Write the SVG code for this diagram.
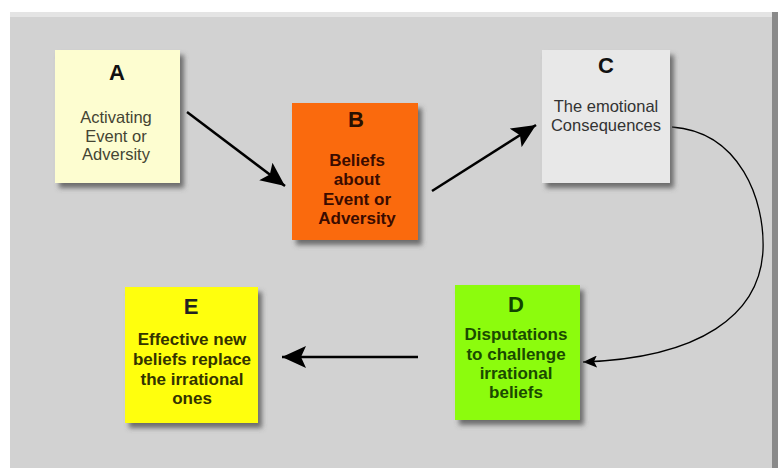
<svg xmlns="http://www.w3.org/2000/svg" width="781" height="469" viewBox="0 0 781 469">
<defs>
<filter id="sh" x="-20%" y="-20%" width="140%" height="140%">
<feDropShadow dx="4" dy="5" stdDeviation="2.5" flood-color="#555" flood-opacity="0.8"/>
</filter>
<marker id="big" markerUnits="userSpaceOnUse" markerWidth="26" markerHeight="22" refX="24" refY="11" orient="auto">
<path d="M0,0 L24,11 L0,22 L5,11 Z" fill="#000"/>
</marker>
<marker id="small" markerUnits="userSpaceOnUse" markerWidth="16" markerHeight="12" refX="14" refY="6" orient="auto">
<path d="M0,0 L14,6 L0,12 L3,6 Z" fill="#000"/>
</marker>
<style>
.t{font-family:"Liberation Sans",Arial,sans-serif;text-anchor:middle}
.h{font-size:22px;font-weight:bold}
.n{font-size:16.5px}
.b{font-size:17px;font-weight:bold}
.ln{stroke:#000;fill:none}
</style>
</defs>
<rect x="0" y="0" width="781" height="469" fill="#ffffff"/>
<rect x="10" y="12" width="768" height="456" fill="#d2d2d2"/>
<rect x="10" y="12" width="768" height="5" fill="#e4e4e4"/>
<rect x="772" y="12" width="6" height="456" fill="#8a8a8a"/>

<g id="connectors">
<line class="ln" x1="187" y1="112" x2="285" y2="186" stroke-width="2.5" marker-end="url(#big)"/>
<line class="ln" x1="432" y1="191" x2="536" y2="125" stroke-width="2.5" marker-end="url(#big)"/>
<path class="ln" d="M672,127 C740,132 765,200 763,250 C760,315 700,358 583,362" stroke-width="1.3" marker-end="url(#small)"/>
<line class="ln" x1="418" y1="357" x2="282" y2="357" stroke-width="2.5" marker-end="url(#big)"/>
</g>

<g id="nodeA">
<rect x="55" y="50" width="125" height="133" fill="#fdfdd0" filter="url(#sh)"/>
<text class="t h" x="117" y="80" fill="#111">A</text>
<text class="t n" x="116" y="123" fill="#444433">Activating</text>
<text class="t n" x="116" y="142" fill="#444433">Event or</text>
<text class="t n" x="116" y="160" fill="#444433">Adversity</text>
</g>

<g id="nodeB">
<rect x="292" y="103" width="126" height="137" fill="#fa6a10" filter="url(#sh)"/>
<text class="t h" x="356" y="127" fill="#2a1000">B</text>
<text class="t b" x="357" y="166" fill="#3a0c00">Beliefs</text>
<text class="t b" x="357" y="185" fill="#3a0c00">about</text>
<text class="t b" x="357" y="205" fill="#3a0c00">Event or</text>
<text class="t b" x="357" y="224" fill="#3a0c00">Adversity</text>
</g>

<g id="nodeC">
<rect x="542" y="50" width="128" height="133" fill="#e8e8e8" filter="url(#sh)"/>
<text class="t h" x="606" y="73" fill="#111">C</text>
<text class="t n" x="606" y="112" fill="#333">The emotional</text>
<text class="t n" x="606" y="131" fill="#333">Consequences</text>
</g>

<g id="nodeD">
<rect x="455" y="285" width="125" height="135" fill="#8cfc0e" filter="url(#sh)"/>
<text class="t h" x="516" y="312" fill="#114400">D</text>
<text class="t b" x="516" y="340" fill="#1a4a00">Disputations</text>
<text class="t b" x="516" y="360" fill="#1a4a00">to challenge</text>
<text class="t b" x="516" y="379" fill="#1a4a00">irrational</text>
<text class="t b" x="516" y="398" fill="#1a4a00">beliefs</text>
</g>

<g id="nodeE">
<rect x="125" y="287" width="133" height="136" fill="#ffff0a" filter="url(#sh)"/>
<text class="t h" x="191" y="314" fill="#222">E</text>
<text class="t b" x="192" y="345" fill="#333300">Effective new</text>
<text class="t b" x="192" y="365" fill="#333300">beliefs replace</text>
<text class="t b" x="192" y="385" fill="#333300">the irrational</text>
<text class="t b" x="192" y="404" fill="#333300">ones</text>
</g>
</svg>
